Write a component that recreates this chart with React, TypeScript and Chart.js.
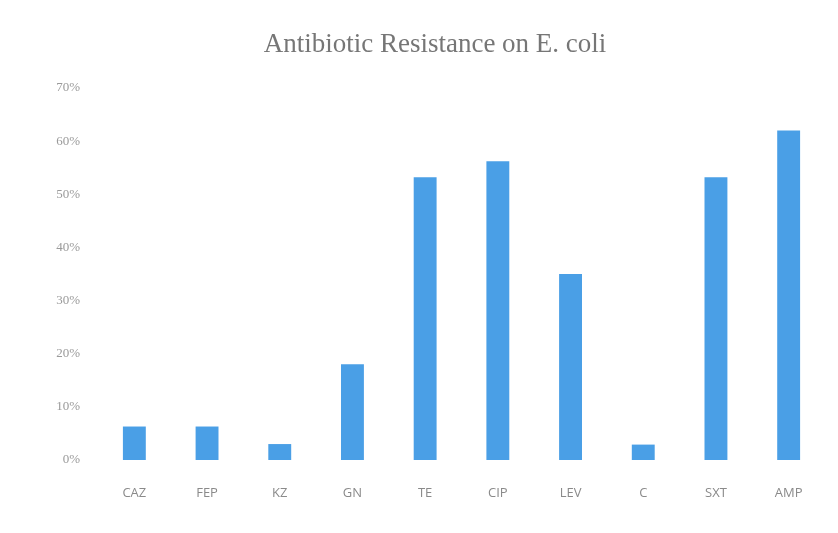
import React, { useEffect, useRef } from "react";
import { Chart, registerables } from "chart.js";

Chart.register(...registerables);

const categories = ["CAZ", "FEP", "KZ", "GN", "TE", "CIP", "LEV", "C", "SXT", "AMP"];
const resistance = [6.3, 6.3, 3.0, 18.0, 53.2, 56.2, 35.0, 2.9, 53.2, 62.0];
const titleText = "Antibiotic Resistance on E. coli";
const yMin = 0;
const yMax = 70;
const yStep = 10;

export default function App() {
  const ref = useRef<HTMLCanvasElement | null>(null);

  useEffect(() => {
    if (!ref.current) return;
    const chart = new Chart(ref.current, {
      type: "bar",
      data: {
        labels: categories,
        datasets: [
          {
            data: resistance,
            backgroundColor: "#4a9fe6",
            borderWidth: 0,
            barPercentage: 0.63,
            categoryPercentage: 0.5,
          },
        ],
      },
      options: {
        responsive: false,
        animation: false,
        layout: { padding: { left: 45, right: 13, top: 0, bottom: 0 } },
        plugins: {
          legend: { display: false },
          tooltip: { enabled: false },
          title: {
            display: true,
            text: titleText,
            color: "#767676",
            font: { family: "'Liberation Serif', 'DejaVu Serif', serif", size: 27, weight: "normal" },
            padding: { top: 29, bottom: 26.6 },
          },
        },
        scales: {
          x: {
            grid: { display: false, drawTicks: false },
            border: { display: false },
            ticks: {
              color: "#8a8a8a",
              padding: 25,
              font: { family: "'Open Sans', sans-serif", size: 13 },
            },
            afterFit: (s: any) => {
              s.height = 73;
            },
          },
          y: {
            min: yMin,
            max: yMax,
            grid: { display: false, drawTicks: false },
            border: { display: false },
            ticks: {
              stepSize: yStep,
              color: "#9a9a9a",
              padding: 18,
              font: { family: "'Liberation Serif', serif", size: 13 },
              callback: (v: any) => `${v}%`,
            },
            afterFit: (s: any) => {
              s.width = 53;
            },
          },
        },
      },
    });
    return () => chart.destroy();
  }, []);

  return (
    <div style={{ position: "absolute", left: 0, top: 0, width: 838, height: 533, background: "#fff" }}>
      <canvas ref={ref} width={838} height={533} style={{ display: "block" }} />
    </div>
  );
}
